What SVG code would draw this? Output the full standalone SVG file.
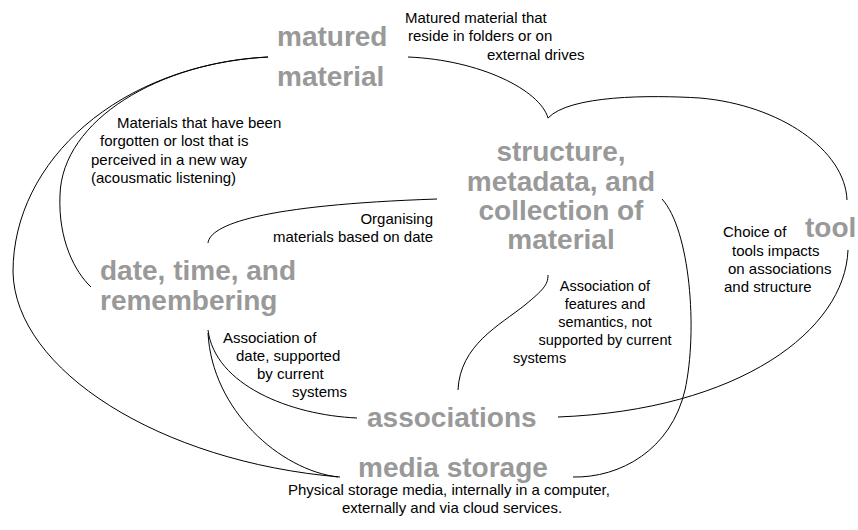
<svg xmlns="http://www.w3.org/2000/svg" width="858" height="530" viewBox="0 0 858 530">
  <style>
    .node { font-family: "Liberation Sans", Arial, sans-serif; font-weight: bold; font-size: 28px; fill: #999999; }
    .note { font-family: "Liberation Sans", Arial, sans-serif; font-size: 15px; fill: #000000; }
    .small { font-size: 14.5px; }
    .link { fill: none; stroke: #000000; stroke-width: 1; }
  </style>
  <rect width="858" height="530" fill="#ffffff"/>

  <!-- connectors -->
  <g id="connectors">
    <path class="link" d="M268,57 C160,62 62,120 60,195 C58,240 75,272 91,287"/>
    <path class="link" d="M268,57 C120,65 13,160 13,272 C15,370 160,462 340,477"/>
    <path class="link" d="M208,243 C210,225 260,205 437,199"/>
    <path class="link" d="M408,57 C480,60 540,90 548,118"/>
    <path class="link" d="M548,118 C570,95 650,95 700,98 C780,105 845,150 847,200"/>
    <path class="link" d="M848,250 C845,330 740,410 558,417"/>
    <path class="link" d="M662,199 C690,230 698,330 685,390 C671,450 620,478 573,477"/>
    <path class="link" d="M458,390 C460,345 500,325 525,305 C543,290 548,285 548,275"/>
    <path class="link" d="M208,330 C215,385 290,415 357,418"/>
    <path class="link" d="M208,333 C212,410 280,470 338,477"/>
  </g>

  <!-- connector labels -->
  <g id="labels">
    <text class="note"><tspan x="405" y="23">Matured material that</tspan><tspan x="408" y="41">reside in folders or on</tspan><tspan x="487" y="60">external drives</tspan></text>
    <text class="note"><tspan x="117" y="128">Materials that have been</tspan><tspan x="100" y="146">forgotten or lost that is</tspan><tspan x="91" y="165">perceived in a new way</tspan><tspan x="91" y="183">(acousmatic listening)</tspan></text>
    <text class="note" text-anchor="end"><tspan x="433" y="224">Organising</tspan><tspan x="433" y="242">materials based on date</tspan></text>
    <text class="note"><tspan x="723" y="237">Choice of</tspan><tspan x="732" y="256">tools impacts</tspan><tspan x="728" y="274">on associations</tspan><tspan x="724" y="292">and structure</tspan></text>
    <text class="note"><tspan x="223" y="343">Association of</tspan><tspan x="236" y="361">date, supported</tspan><tspan x="257" y="379">by current</tspan><tspan x="292" y="397">systems</tspan></text>
    <text class="note small"><tspan x="605" y="291" text-anchor="middle">Association of</tspan><tspan x="605" y="309" text-anchor="middle">features and</tspan><tspan x="605" y="327" text-anchor="middle">semantics, not</tspan><tspan x="605" y="345" text-anchor="middle">supported by current</tspan><tspan x="513" y="363">systems</tspan></text>
  </g>

  <!-- nodes -->
  <g id="matured-material">
    <text class="node"><tspan x="277" y="46">matured</tspan><tspan x="277" y="86">material</tspan></text>
  </g>
  <g id="structure-metadata">
    <text class="node" text-anchor="middle"><tspan x="561" y="161">structure,</tspan><tspan x="561" y="191">metadata, and</tspan><tspan x="561" y="220">collection of</tspan><tspan x="561" y="249">material</tspan></text>
  </g>
  <g id="tool">
    <text class="node" x="805" y="237">tool</text>
  </g>
  <g id="date-time">
    <text class="node"><tspan x="100" y="280">date, time, and</tspan><tspan x="100" y="310">remembering</tspan></text>
  </g>
  <g id="associations">
    <text class="node" x="367" y="427">associations</text>
  </g>
  <g id="media-storage">
    <text class="node" x="358" y="477">media storage</text>
    <text class="note"><tspan x="288" y="495">Physical storage media, internally in a computer,</tspan><tspan x="342" y="513">externally and via cloud services.</tspan></text>
  </g>
</svg>
